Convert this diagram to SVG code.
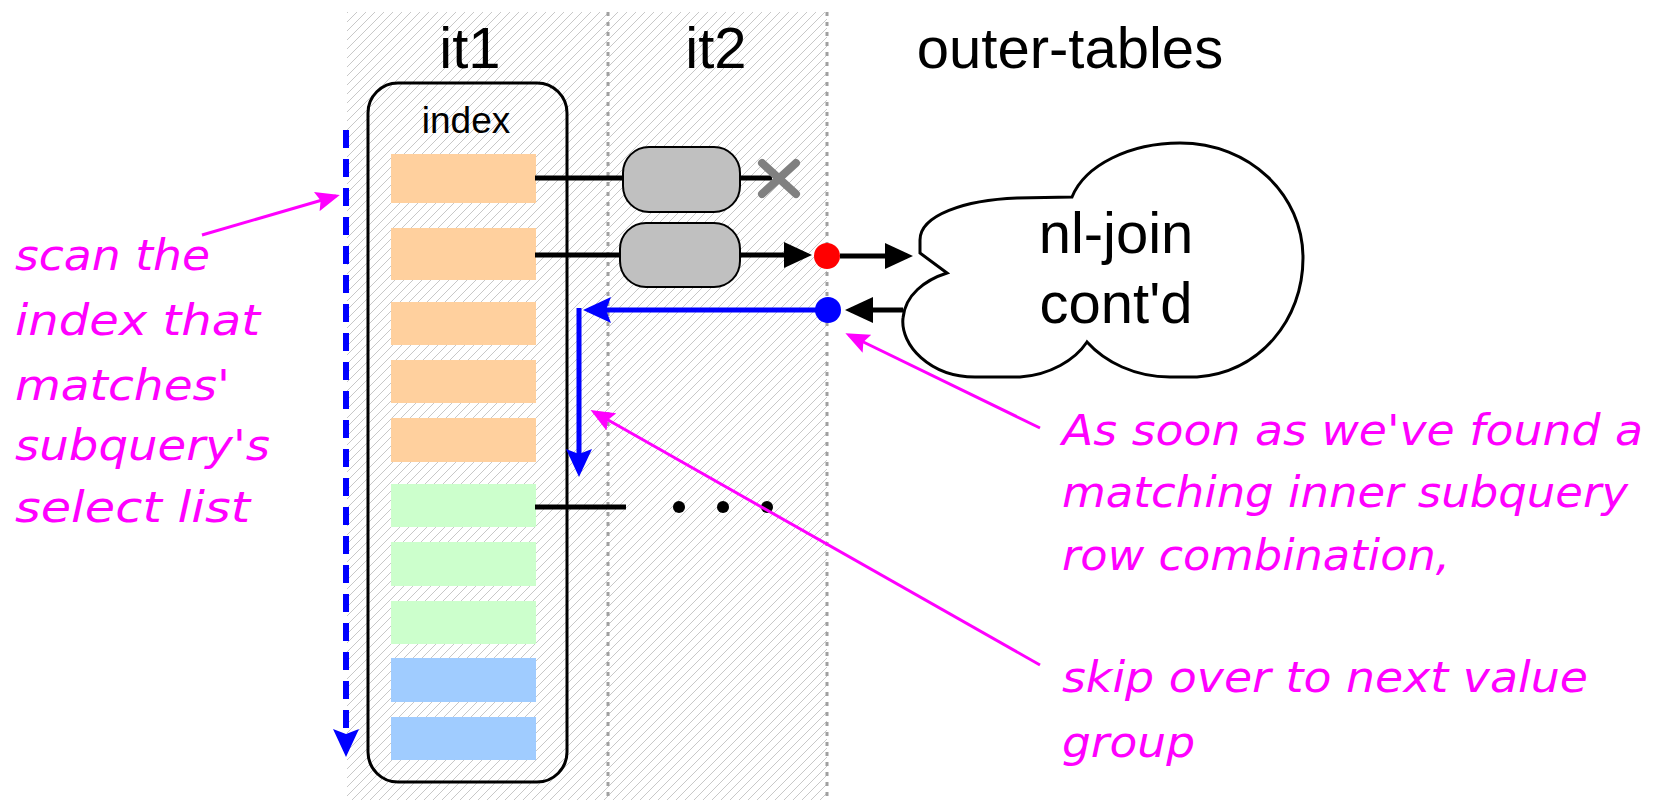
<svg xmlns="http://www.w3.org/2000/svg" width="1665" height="800" viewBox="0 0 1665 800">
<style>
.lbl{font-family:"Liberation Sans",Arial,sans-serif;fill:#000;text-anchor:middle}
.note{font-family:"Comic Sans MS","DejaVu Sans",sans-serif;font-style:italic;fill:#FF00FF;font-size:42px}
.row-o{fill:#FFD09E}
.row-g{fill:#CCFFCC}
.row-b{fill:#A0CCFF}
.blk{stroke:#000;stroke-width:5;fill:none}
.blu{stroke:#0000FF;stroke-width:5;fill:none}
.mag{stroke:#FF00FF;stroke-width:3;fill:none}
.dot{stroke:#A0A0A0;stroke-width:3;stroke-dasharray:4 6;fill:none}
.pill{fill:#C0C0C0;stroke:#000;stroke-width:2}
</style>
<defs>
<pattern id="hatch" patternUnits="userSpaceOnUse" width="9" height="9">
<path d="M-1,1 L1,-1 M0,9 L9,0 M8,10 L10,8" stroke="#C8C8C8" stroke-width="1"/>
</pattern>
<marker id="ahBlack" markerUnits="userSpaceOnUse" viewBox="0 0 28 26" refX="22" refY="13" markerWidth="28" markerHeight="26" orient="auto">
<path d="M0,0 L28,13 L0,26 z" fill="#000"/>
</marker>
<marker id="ahBlue" markerUnits="userSpaceOnUse" viewBox="0 0 28 26" refX="22" refY="13" markerWidth="28" markerHeight="26" orient="auto">
<path d="M0,0 L28,13 L0,26 L5,13 z" fill="#0000FF"/>
</marker>
<marker id="ahMag" markerUnits="userSpaceOnUse" viewBox="0 0 24 20" refX="20" refY="10" markerWidth="24" markerHeight="20" orient="auto">
<path d="M0,0 L24,10 L0,20 L4,10 z" fill="#FF00FF"/>
</marker>
</defs>

<g id="background">
<rect x="347" y="12" width="480" height="788" fill="url(#hatch)"/>
<line class="dot" x1="608" y1="12" x2="608" y2="800"/>
<line class="dot" x1="827" y1="12" x2="827" y2="800"/>
</g>

<g id="headers">
<text class="lbl" x="470" y="68" font-size="58">it1</text>
<text class="lbl" x="716" y="68" font-size="58">it2</text>
<text class="lbl" x="1070" y="68" font-size="58">outer-tables</text>
</g>

<g id="index">
<rect x="368" y="83" width="199" height="699" rx="30" fill="none" stroke="#000" stroke-width="3"/>
<text class="lbl" x="466" y="133" font-size="37">index</text>
<rect class="row-o" x="391" y="154" width="145" height="49"/>
<rect class="row-o" x="391" y="228" width="145" height="52"/>
<rect class="row-o" x="391" y="302" width="145" height="43"/>
<rect class="row-o" x="391" y="360" width="145" height="43"/>
<rect class="row-o" x="391" y="418" width="145" height="44"/>
<rect class="row-g" x="391" y="484" width="145" height="43"/>
<rect class="row-g" x="391" y="542" width="145" height="44"/>
<rect class="row-g" x="391" y="601" width="145" height="43"/>
<rect class="row-b" x="391" y="658" width="145" height="44"/>
<rect class="row-b" x="391" y="717" width="145" height="43"/>
</g>

<g id="pill1"><rect class="pill" x="623" y="147" width="117" height="65" rx="26"/></g>
<g id="pill2"><rect class="pill" x="620" y="223" width="120" height="64" rx="26"/></g>

<g id="cloud">
<path d="M920,253 L947,273 C925,280 905,295 903,318 C900,345 930,377 975,377 L1020,377 C1050,375 1075,360 1087,342 C1105,362 1135,377 1170,377 L1197,377 C1260,372 1303,320 1303,258 C1303,195 1250,143 1180,143 C1130,143 1085,165 1072,197 L1017,198 C965,200 920,215 920,240 Z" fill="#FFF" stroke="#000" stroke-width="3"/>
<text class="lbl" x="1116" y="253" font-size="58">nl-join</text>
<text class="lbl" x="1116" y="323" font-size="58">cont'd</text>
</g>

<g id="reddot"><circle cx="827" cy="256" r="13" fill="#FF0000"/></g>
<g id="bluedot"><circle cx="828" cy="310" r="13" fill="#0000FF"/></g>

<g id="connectors">
<line class="blk" x1="535" y1="178" x2="623" y2="178"/>
<line class="blk" x1="740" y1="178" x2="772" y2="178"/>
<g stroke="#808080" stroke-width="8" stroke-linecap="round">
<line x1="762" y1="163" x2="796" y2="194"/>
<line x1="796" y1="163" x2="762" y2="194"/>
</g>
<line class="blk" x1="535" y1="255" x2="620" y2="255"/>
<line class="blk" x1="740" y1="255" x2="806" y2="255" marker-end="url(#ahBlack)"/>
<line class="blk" x1="840" y1="256" x2="907" y2="256" marker-end="url(#ahBlack)"/>
<line class="blk" x1="903" y1="310" x2="851" y2="310" marker-end="url(#ahBlack)"/>
<line class="blu" x1="828" y1="310" x2="589" y2="310" marker-end="url(#ahBlue)"/>
<line class="blu" x1="579" y1="308" x2="579" y2="471" marker-end="url(#ahBlue)"/>
<line x1="346" y1="130" x2="346" y2="751" stroke="#0000FF" stroke-width="6" stroke-dasharray="18 11" marker-end="url(#ahBlue)"/>
<line class="blk" x1="535" y1="507" x2="626" y2="507"/>
<circle cx="679" cy="507" r="6" fill="#000"/>
<circle cx="723" cy="507" r="6" fill="#000"/>
<circle cx="767" cy="507" r="6" fill="#000"/>
<line class="mag" x1="202" y1="235" x2="336" y2="196" marker-end="url(#ahMag)"/>
<line class="mag" x1="1040" y1="428" x2="849" y2="335" marker-end="url(#ahMag)"/>
<line class="mag" x1="1040" y1="665" x2="594" y2="412" marker-end="url(#ahMag)"/>
</g>

<g id="note-left">
<text class="note" x="15" y="270" textLength="195" lengthAdjust="spacingAndGlyphs">scan the</text>
<text class="note" x="15" y="335" textLength="245" lengthAdjust="spacingAndGlyphs">index that</text>
<text class="note" x="15" y="400" textLength="215" lengthAdjust="spacingAndGlyphs">matches'</text>
<text class="note" x="15" y="460" textLength="255" lengthAdjust="spacingAndGlyphs">subquery's</text>
<text class="note" x="15" y="522" textLength="235" lengthAdjust="spacingAndGlyphs">select list</text>
</g>

<g id="note-right">
<text class="note" x="1062" y="445" textLength="581" lengthAdjust="spacingAndGlyphs">As soon as we've found a</text>
<text class="note" x="1062" y="507" textLength="566" lengthAdjust="spacingAndGlyphs">matching inner subquery</text>
<text class="note" x="1062" y="570" textLength="388" lengthAdjust="spacingAndGlyphs">row combination,</text>
<text class="note" x="1062" y="692" textLength="526" lengthAdjust="spacingAndGlyphs">skip over to next value</text>
<text class="note" x="1062" y="757" textLength="133" lengthAdjust="spacingAndGlyphs">group</text>
</g>
</svg>
